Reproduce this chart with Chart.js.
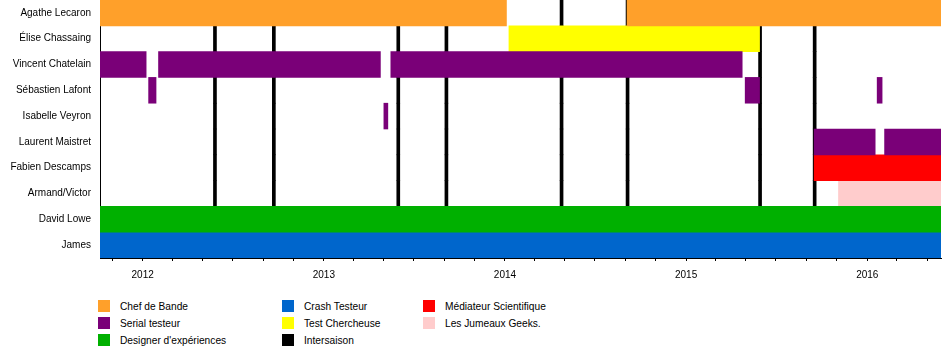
<!DOCTYPE html>
<html><head><meta charset="utf-8">
<script src="https://cdn.jsdelivr.net/npm/chart.js@4/dist/chart.umd.min.js"></script>
<style>
html,body{margin:0;padding:0;background:#fff;}
#wrap{position:relative;width:950px;height:358px;overflow:hidden;background:#fff;}
#cwrap{position:absolute;left:0;top:0;width:950px;height:290px;}
.lg{position:absolute;height:12px;font-family:"Liberation Sans",Arial,sans-serif;font-size:10.2px;color:#000;white-space:nowrap;}
.lg i{position:absolute;left:0;top:0;width:12px;height:12px;}
.lg span{position:absolute;left:22px;top:1px;line-height:12px;}
</style></head>
<body><div id="wrap"><div id="cwrap"><canvas id="c"></canvas></div><div id="legend"></div></div>
<script>
// ---- data ----
const axisStart = '2011-10-07';
const axisEnd = '2016-05-29';
const rows = ['Agathe Lecaron','Élise Chassaing','Vincent Chatelain','Sébastien Lafont','Isabelle Veyron','Laurent Maistret','Fabien Descamps','Armand/Victor','David Lowe','James'];
const roles = ['Chef de Bande','Serial testeur',"Designer d'expériences",'Crash Testeur','Test Chercheuse','Intersaison','Médiateur Scientifique','Les Jumeaux Geeks.'];
const roleColors = ['#ffa02a','#7a0078','#00b000','#0066cc','#ffff00','#000000','#ff0000','#ffcccc'];
const yearLabels = ['2012','2013','2014','2015','2016'];

const chefDeBande = [['Agathe Lecaron', axisStart, '2014-01-04'], ['Agathe Lecaron', '2014-09-04', axisEnd]];
const serialTesteur = [
  ['Vincent Chatelain', axisStart, '2012-01-08'], ['Vincent Chatelain', '2012-02-02', '2013-04-25'], ['Vincent Chatelain', '2013-05-16', '2015-04-24'],
  ['Sébastien Lafont', '2012-01-13', '2012-01-28'], ['Sébastien Lafont', '2015-04-30', '2015-05-29'], ['Sébastien Lafont', '2016-01-21', '2016-01-31'],
  ['Isabelle Veyron', '2013-05-02', '2013-05-10'],
  ['Laurent Maistret', '2015-09-16', '2016-01-17'], ['Laurent Maistret', '2016-02-05', axisEnd]
];
const designer = [['David Lowe', axisStart, axisEnd]];
const crashTesteur = [['James', axisStart, axisEnd]];
const testChercheuse = [['Élise Chassaing', '2014-01-09', '2015-05-29']];
const mediateur = [['Fabien Descamps', '2015-09-16', axisEnd]];
const jumeaux = [['Armand/Victor', '2015-11-04', axisEnd]];
const intersaison = ['2012-05-23','2012-09-19','2013-05-28','2013-09-02','2014-04-22','2014-09-02','2015-05-27','2015-09-14'];

// ---- helpers ----
function toYear(s){
  const [y,m,d] = s.split('-').map(Number);
  const t0 = Date.UTC(y,0,1), t1 = Date.UTC(y+1,0,1);
  return y + (Date.UTC(y,m-1,d) - t0) / (t1 - t0);
}
function bars(list){ return list.map(([r,s,e]) => ({y:r, x:[toYear(s), toYear(e)]})); }

const seriesByRole = [chefDeBande, serialTesteur, designer, crashTesteur, testChercheuse, null, mediateur, jumeaux];
const datasets = [];
roles.forEach((name, i) => {
  if (name === 'Intersaison') {
    datasets.push({
      label: name,
      data: intersaison.flatMap(d => rows.map(r => ({y:r, x:[toYear(d), toYear(d)]}))),
      backgroundColor: roleColors[i], minBarLength: 3, order: 1
    });
  } else {
    datasets.push({ label: name, data: bars(seriesByRole[i]), backgroundColor: roleColors[i], order: 0 });
  }
});
const yearTickValues = yearLabels.map(y => toYear(y + '-01-01'));

Chart.defaults.font.family = '"Liberation Sans", Arial, sans-serif';
Chart.defaults.font.size = 10;
Chart.defaults.color = '#000';

new Chart(document.getElementById('c'), {
  type: 'bar',
  data: { labels: rows, datasets },
  options: {
    indexAxis: 'y',
    responsive: true, maintainAspectRatio: false, animation: false, devicePixelRatio: 1,
    datasets: { bar: { grouped: false, categoryPercentage: 1, barPercentage: 1, borderWidth: 0 } },
    layout: { padding: { left: 0, right: 9, top: 0, bottom: 0 } },
    plugins: { legend: { display: false }, tooltip: { enabled: false } },
    scales: {
      y: {
        type: 'category', labels: rows, offset: true,
        grid: { display: false, drawTicks: false },
        border: { display: true, color: '#000', width: 1 },
        ticks: { padding: 9, color: '#000' },
        afterFit(s){ s.width = 100; s.paddingTop = 0; s.paddingBottom = 0; }
      },
      x: {
        type: 'linear', min: toYear(axisStart), max: toYear(axisEnd),
        grid: { display: true, drawOnChartArea: false, drawTicks: true, tickLength: 3, color: '#000' },
        border: { display: true, color: '#000', width: 1 },
        ticks: {
          autoSkip: false, maxRotation: 0, padding: 8, color: '#000',
          callback(v){ const k = yearTickValues.indexOf(v); return k >= 0 ? yearLabels[k] : ''; }
        },
        afterBuildTicks(s){
          const t = [];
          for (let y = 2011; y <= 2016; y++) for (let m = 1; m <= 12; m += 2) {
            const v = toYear(y + '-' + String(m).padStart(2,'0') + '-01');
            if (v >= s.min && v <= s.max) t.push({ value: v });
          }
          s.ticks = t;
        },
        afterFit(s){ s.height = 32; s.paddingLeft = 0; s.paddingRight = 0; }
      }
    }
  }
});

// ---- legend (3 columns, column-major) ----
const colX = [98, 282, 423], rowY = [300, 317, 334];
const lg = document.getElementById('legend');
roles.forEach((name, i) => {
  const d = document.createElement('div');
  d.className = 'lg';
  d.style.left = colX[Math.floor(i/3)] + 'px';
  d.style.top = rowY[i%3] + 'px';
  const sw = document.createElement('i'); sw.style.background = roleColors[i];
  const tx = document.createElement('span'); tx.textContent = name;
  d.appendChild(sw); d.appendChild(tx); lg.appendChild(d);
});
</script>
</body></html>
